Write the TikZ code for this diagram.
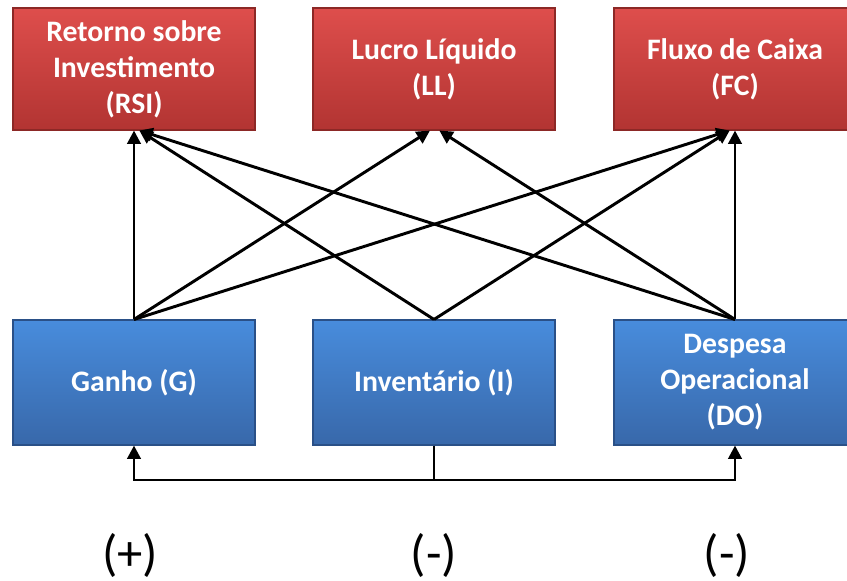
\documentclass[tikz,border=0pt]{standalone}
\usepackage{fontspec}
\setmainfont{Carlito}
\usetikzlibrary{arrows.meta}
\definecolor{redtop}{RGB}{222,78,76}
\definecolor{redbot}{RGB}{178,52,50}
\definecolor{rededge}{RGB}{140,40,38}
\definecolor{bluetop}{RGB}{72,140,220}
\definecolor{bluebot}{RGB}{56,104,170}
\definecolor{blueedge}{RGB}{42,80,135}
\tikzset{
  redbox/.style={rectangle, draw=rededge, line width=0.8pt, top color=redtop, bottom color=redbot,
    minimum width=181.5pt, minimum height=91.5pt, align=center, text=white,
    font=\fontsize{22.3}{27}\selectfont\bfseries, inner sep=0pt},
  bluebox/.style={rectangle, draw=blueedge, line width=0.8pt, top color=bluetop, bottom color=bluebot,
    minimum width=181.5pt, minimum height=93.75pt, align=center, text=white,
    font=\fontsize{22.3}{27}\selectfont\bfseries, inner sep=0pt},
  conn/.style={line width=2.2pt, black},
  arr/.style={conn, -{Triangle[length=10pt,width=10pt]}},
  sign/.style={font=\fontsize{38}{44}\selectfont, inner sep=0pt}
}
\begin{document}
\begin{tikzpicture}[x=0.75pt,y=-0.75pt]
\useasboundingbox (0,0) rectangle (847,581);
\node[redbox] (rsi) at (134,69) {Retorno sobre\\Investimento\\(RSI)};
\node[redbox] (ll) at (434,69) {Lucro Líquido\\(LL)};
\node[redbox] (fc) at (735,69) {Fluxo de Caixa\\(FC)};
\node[bluebox] (g) at (134,382.5) {Ganho (G)};
\node[bluebox] (i) at (434,382.5) {Inventário (I)};
\node[bluebox] (do) at (735,382.5) {Despesa\\Operacional\\(DO)};
% Ganho
\draw[arr] (g.north) -- (rsi.south);
\draw[arr] (g.north) -- ([xshift=-3pt]ll.south);
\draw[arr] (g.north) -- ([xshift=-4pt]fc.south);
% Inventario
\draw[arr] (i.north) -- ([xshift=4pt]rsi.south);
\draw[arr] (i.north) -- ([xshift=-4pt]fc.south);
% Despesa Operacional
\draw[arr] (do.north) -- ([xshift=4pt]rsi.south);
\draw[arr] (do.north) -- ([xshift=4pt]ll.south);
\draw[arr] (do.north) -- (fc.south);
% feedback
\coordinate (fb) at (434,480);
\draw[conn] (i.south) -- (fb);
\draw[arr] (fb) -| (g.south);
\draw[arr] (fb) -| (do.south);
\node[sign] (p1) at (130,555) {(+)};
\node[sign] (p2) at (434,555) {(-)};
\node[sign] (p3) at (727,555) {(-)};
\end{tikzpicture}
\end{document}
